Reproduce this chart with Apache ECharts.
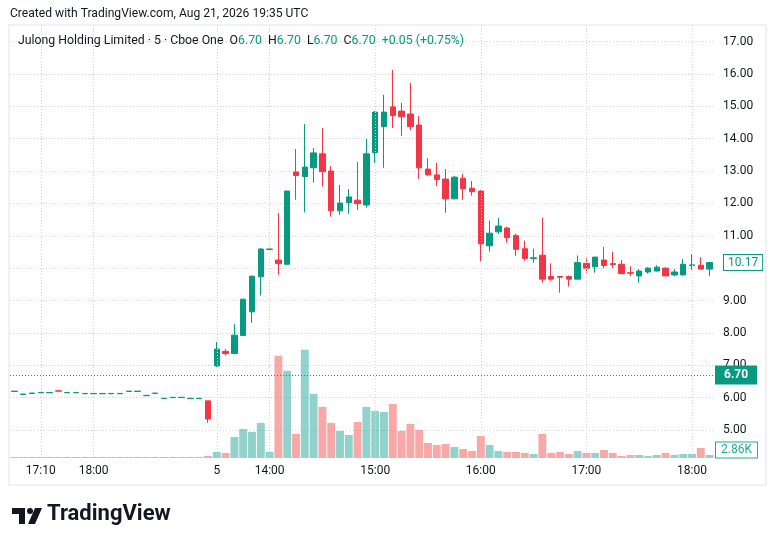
<!DOCTYPE html>
<html>
<head>
<meta charset="utf-8">
<script src="https://cdn.jsdelivr.net/npm/echarts@6/dist/echarts.min.js"></script>
<style>
html,body{margin:0;padding:0;background:#fff;}
#c{width:776px;height:546px;}
</style>
</head>
<body>
<div id="c"></div>
<script>
// ---- data ----
const times = [
 "4 16:55","4 17:00","4 17:05","4 17:10","4 17:15","4 17:25","4 17:30","4 17:35","4 17:45","4 18:00",
 "4 18:05","4 18:15","4 18:25","4 18:35","4 18:45","4 18:50","4 19:00","4 19:10","4 19:20","4 19:30",
 "4 19:40","4 19:50","4 19:55",
 "5 13:30","5 13:35","5 13:40","5 13:45","5 13:50","5 13:55","5 14:00","5 14:05","5 14:10","5 14:15",
 "5 14:20","5 14:25","5 14:30","5 14:35","5 14:40","5 14:45","5 14:50","5 14:55","5 15:00","5 15:05",
 "5 15:10","5 15:15","5 15:20","5 15:25","5 15:30","5 15:35","5 15:40","5 15:45","5 15:50","5 15:55",
 "5 16:00","5 16:05","5 16:10","5 16:15","5 16:20","5 16:25","5 16:30","5 16:35","5 16:40","5 16:45",
 "5 16:50","5 16:55","5 17:00","5 17:05","5 17:10","5 17:15","5 17:20","5 17:25","5 17:30","5 17:35",
 "5 17:40","5 17:45","5 17:50","5 17:55","5 18:00","5 18:05","5 18:10"
];
const opens = [
 6.19,6.10,6.13,6.15,6.15,6.21,6.15,6.15,6.12,6.12,6.12,6.12,6.12,6.19,6.19,6.06,6.13,5.97,6.00,6.00,5.97,5.97,5.90,
 6.98,7.43,7.36,7.92,8.65,9.73,10.58,10.25,10.12,12.97,12.83,13.10,13.53,13.00,11.77,12.02,12.10,11.95,13.57,14.37,
 14.98,14.85,14.76,14.42,13.06,12.88,12.75,12.14,12.78,12.47,12.38,10.69,11.12,11.24,11.01,10.60,10.30,10.40,9.74,9.74,
 9.74,9.66,10.15,10.04,10.25,10.14,10.12,9.86,9.76,9.88,9.91,10.00,9.79,9.79,10.08,10.09,9.97
];
const closes = [
 6.20,6.11,6.14,6.16,6.16,6.20,6.16,6.16,6.13,6.13,6.13,6.13,6.13,6.20,6.20,6.07,6.14,5.98,6.01,6.01,5.98,5.98,5.34,
 7.50,7.36,7.93,9.04,9.75,10.59,10.59,10.14,12.38,12.86,13.12,13.56,12.98,11.77,12.01,12.20,11.99,13.53,14.82,14.82,
 14.71,14.68,14.37,13.10,12.88,12.74,12.14,12.81,12.45,12.36,10.75,11.08,11.30,10.94,10.58,10.30,10.32,9.66,9.66,9.72,
 9.66,10.17,10.00,10.34,10.08,10.11,9.83,9.84,9.91,10.00,10.03,9.76,9.88,10.12,10.10,9.97,10.17
];
const lows = [
 6.19,6.10,6.13,6.15,6.15,6.20,6.15,6.15,6.12,6.12,6.12,6.12,6.12,6.19,6.19,6.06,6.13,5.97,6.00,6.00,5.97,5.97,5.22,
 6.95,7.30,7.36,7.90,8.31,9.15,10.58,9.80,10.10,12.11,11.72,12.64,12.52,11.59,11.65,11.68,11.80,11.87,13.25,13.10,
 14.33,14.08,14.27,12.76,12.85,12.54,11.71,12.13,12.11,12.24,10.21,10.51,11.06,10.79,10.38,10.23,10.17,9.55,9.61,9.24,
 9.43,9.66,9.86,9.86,10.00,10.00,9.83,9.75,9.55,9.83,9.90,9.75,9.75,9.78,9.94,9.96,9.75
];
const highs = [
 6.20,6.11,6.14,6.16,6.16,6.21,6.16,6.16,6.13,6.13,6.13,6.13,6.13,6.20,6.20,6.07,6.14,5.98,6.01,6.01,5.98,5.98,5.90,
 7.72,7.50,8.27,9.05,9.77,10.62,10.59,11.70,12.40,13.68,14.45,13.71,14.33,13.15,12.57,12.44,13.28,13.99,14.85,15.35,
 16.12,15.10,15.72,14.70,13.40,13.25,13.06,12.85,12.91,12.69,12.41,11.46,11.55,11.28,11.06,10.85,10.60,11.56,10.15,9.76,
 9.77,10.39,10.31,10.35,10.65,10.50,10.25,10.06,9.97,10.03,10.09,10.03,9.97,10.28,10.43,10.34,10.18
];
// volume in thousands
const volumes = [
 0.9,0.9,0.9,0.9,0.9,0.9,0.9,0.9,0.9,0.9,0.9,0.9,0.9,0.9,0.9,0.9,0.9,0.9,0.9,0.9,0.9,0.9,1.9,
 5.7,4.8,20.0,27.6,24.8,33.4,5.7,97.2,82.9,22.9,102.9,61.0,48.6,33.4,25.7,21.9,34.3,48.6,44.8,43.8,
 51.5,25.7,32.4,26.7,14.3,12.4,13.3,10.5,8.6,6.7,21.0,12.4,6.7,5.7,5.7,4.8,3.8,22.9,4.8,5.7,
 3.8,6.7,4.8,4.8,7.6,4.8,1.9,2.9,2.9,1.9,2.9,4.8,2.9,3.8,3.8,9.5,2.86
];
const priceTicks = [5,6,7,8,9,10,11,12,13,14,15,16,17];
const tickCats = ["4 17:10","4 18:00","5 13:30","5 14:00","5 15:00","5 16:00","5 17:00","5 18:00"];
const tickTexts = ["17:10","18:00","5","14:00","15:00","16:00","17:00","18:00"];
const prevClose = 6.70;
const lastPrice = 10.17;
const lastVolumeText = "2.86K";
const headerName = "Julong Holding Limited · 5 · Cboe One";
const headerOHLC = ["6.70","6.70","6.70","6.70"];
const headerChange = "+0.05 (+0.75%)";
const createdText = "Created with TradingView.com, Aug 21, 2026 19:35 UTC";

// ---- build ----
const UP = '#089981', DOWN = '#F23645';
const VUP = 'rgba(38,166,154,0.5)', VDOWN = 'rgba(239,83,80,0.5)';
const FONT = 'Roboto, "Liberation Sans", sans-serif';
const candleData = times.map((t,i)=>[opens[i],closes[i],lows[i],highs[i]]);
const volData = volumes.map((v,i)=>({value:v,itemStyle:{color: closes[i]>=opens[i]?VUP:VDOWN}}));
const volMax = 412;

const chart = echarts.init(document.getElementById('c'), null, {renderer:'canvas'});
const dotted = {color:'#d4d6da', width:1, type:[1,2]};
const rich12 = {fontSize:12.3, fontFamily:FONT};

const logo = {type:'group', children:[
  {type:'polygon', shape:{points:[[12,508],[25,508],[25,524],[19,524],[19,514],[12,514]]}, style:{fill:'#131722'}},
  {type:'circle', shape:{cx:30,cy:511,r:3}, style:{fill:'#131722'}},
  {type:'polygon', shape:{points:[[35,508],[42,508],[35,524],[28,524]]}, style:{fill:'#131722'}}
]};
const frame = {type:'rect', shape:{x:9,y:25,width:757,height:460}, style:{fill:'none',stroke:'#eff1f4',lineWidth:2}, silent:true, z:-1};

const option = {
  animation:false,
  backgroundColor:'#ffffff',
  textStyle:{fontFamily:FONT},
  title:[
    {text:createdText, left:10, top:8, padding:0,
     textStyle:{fontSize:12.1, fontWeight:'normal', color:'#131722', fontFamily:FONT}},
    {text:'{n|'+headerName+'}  {k|O}{v|'+headerOHLC[0]+'}  {k|H}{v|'+headerOHLC[1]+'}  {k|L}{v|'+headerOHLC[2]+'}  {k|C}{v|'+headerOHLC[3]+'}  {v|'+headerChange+'}',
     left:18, top:35, padding:0,
     textStyle:{fontSize:12.3, fontWeight:'normal', fontFamily:FONT,
       rich:{n:Object.assign({color:'#131722'},rich12),k:Object.assign({color:'#131722'},rich12),v:Object.assign({color:UP},rich12)}}},
    {text:'TradingView', left:47, top:503, padding:0,
     textStyle:{fontSize:22, fontWeight:'bold', color:'#131722', fontFamily:FONT}}
  ],
  graphic:[frame, logo],
  grid:{left:10, right:62, top:25, bottom:88, containLabel:false},
  xAxis:[{
    type:'category', data:times, boundaryGap:true,
    axisLine:{show:false}, axisTick:{show:false}, splitLine:{show:false},
    axisLabel:{
      interval:(i,v)=>tickCats.indexOf(v)>=0,
      formatter:(v)=>{const k=tickCats.indexOf(v);return k>=0?tickTexts[k]:'';},
      color:'#131722', fontSize:12, margin:7, fontFamily:FONT
    }
  }],
  yAxis:[
    {type:'value', position:'right', min:4.135, max:17.51, scale:true,
     axisLine:{show:false},
     axisTick:{show:false, customValues:priceTicks},
     axisLabel:{customValues:priceTicks, formatter:(v)=>v.toFixed(2), color:'#131722', fontSize:12, margin:9, fontFamily:FONT},
     splitLine:{show:true, lineStyle:dotted}},
    {type:'value', min:0, max:volMax, show:false, splitLine:{show:false}}
  ],
  series:[
    {type:'bar', name:'Volume', xAxisIndex:0, yAxisIndex:1, data:volData, barCategoryGap:'10%', z:1, silent:true,
     markLine:{silent:true, symbol:['none','none'], label:{show:false},
       lineStyle:dotted,
       data:tickCats.map(c=>({xAxis:c}))}},
    {type:'candlestick', name:'Price', xAxisIndex:0, yAxisIndex:0, data:candleData, barWidth:6, z:3,
     itemStyle:{color:UP, color0:DOWN, borderColor:UP, borderColor0:DOWN, borderWidth:1},
     markLine:{silent:true, symbol:['none','none'],
       data:[
         {yAxis:prevClose, lineStyle:{color:UP,width:1,type:[1,2]},
          label:{show:true, position:'end', distance:1, formatter:prevClose.toFixed(2), color:'#fff', backgroundColor:UP,
                 padding:[4,9,3,9], fontSize:12, fontWeight:'bold', fontFamily:FONT}},
         {yAxis:lastPrice, lineStyle:{color:'rgba(0,0,0,0)', width:1},
          label:{show:true, position:'end', distance:10, formatter:lastPrice.toFixed(2), color:UP, backgroundColor:'#fff',
                 borderColor:UP, borderWidth:1, padding:[2,4,1,4], fontSize:12, fontFamily:FONT}}
       ]}}
  ]
};
chart.setOption(option);

// volume last-value label, positioned from the volume scale and clamped to the pane bottom
const vy = chart.convertToPixel({yAxisIndex:1}, volumes[volumes.length-1]);
const gridBottom = chart.convertToPixel({yAxisIndex:1}, 0);
const cy = Math.min(vy, gridBottom - 8);
chart.setOption({graphic:[
  frame, logo,
  {type:'text', x:716, y:cy, z:10,
   style:{text:lastVolumeText, fill:'#22ab94', font:'12px '+FONT, verticalAlign:'middle', align:'left',
          backgroundColor:'#fff', borderColor:'#22ab94', borderWidth:1, padding:[2,5,1,5]}}
]});
</script>
</body>
</html>
